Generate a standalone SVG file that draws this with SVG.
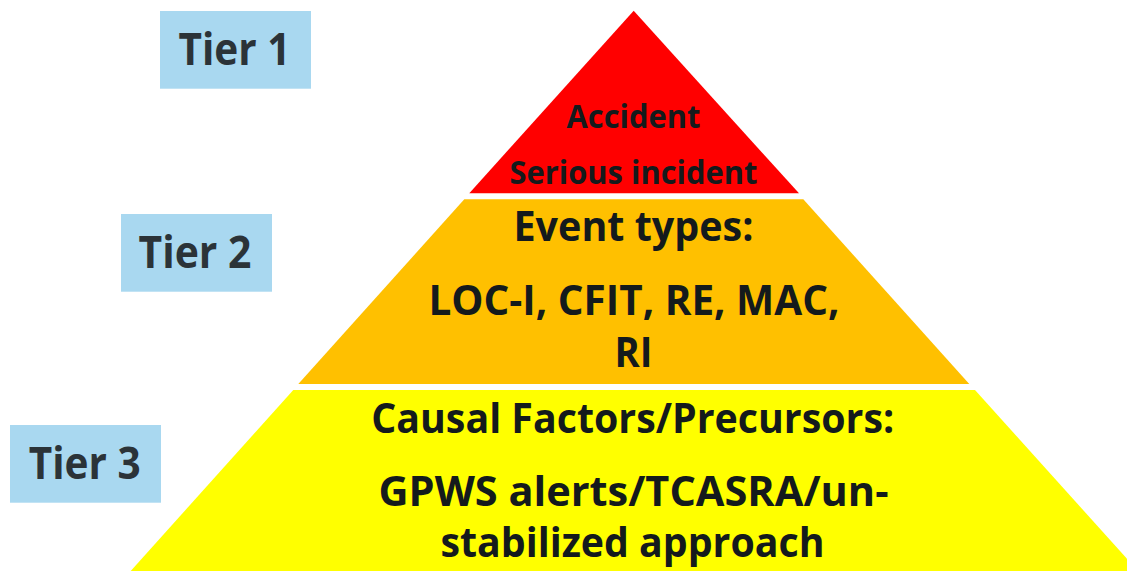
<svg xmlns="http://www.w3.org/2000/svg" width="1127" height="571" viewBox="0 0 1127 571">
  <style>
    .tier-box { fill: #A9D8F0; }
    .tier-label { font-family: "Open Sans", "Liberation Sans", sans-serif; font-weight: 700; font-size: 44px; fill: #2B3338; text-anchor: middle; }
    .level-text { font-family: "Open Sans", "Liberation Sans", sans-serif; font-weight: 700; fill: #141A1C; text-anchor: middle; }
    .big { font-size: 41px; }
    .small { font-size: 32px; }
  </style>
  <rect width="1127" height="571" fill="#FFFFFF"/>

  <!-- pyramid levels -->
  <g id="level-1">
    <polygon points="633.7,10.7 799,193.3 469.3,193.3" fill="#FF0000"/>
    <text class="level-text small" x="633.5" y="127.7" textLength="134" lengthAdjust="spacingAndGlyphs">Accident</text>
    <text class="level-text small" x="633.5" y="184" textLength="248" lengthAdjust="spacingAndGlyphs">Serious incident</text>
  </g>
  <g id="level-2">
    <polygon points="464.3,199.3 803.3,199.3 969.3,384 298.3,384" fill="#FFC000"/>
    <text class="level-text big" x="633.5" y="241" textLength="240" lengthAdjust="spacingAndGlyphs">Event types:</text>
    <text class="level-text big" x="634" y="315" textLength="411" lengthAdjust="spacingAndGlyphs">LOC-I, CFIT, RE, MAC,</text>
    <text class="level-text big" x="633.5" y="367.3" textLength="38" lengthAdjust="spacingAndGlyphs">RI</text>
  </g>
  <g id="level-3">
    <polygon points="293.3,390 975,390 1138,571 130.7,571" fill="#FFFF00"/>
    <text class="level-text big" x="632.7" y="433.2" textLength="523" lengthAdjust="spacingAndGlyphs">Causal Factors/Precursors:</text>
    <text class="level-text big" x="633.5" y="506.2" textLength="510" lengthAdjust="spacingAndGlyphs">GPWS alerts/TCASRA/un-</text>
    <text class="level-text big" x="632.5" y="557" textLength="384" lengthAdjust="spacingAndGlyphs">stabilized approach</text>
  </g>

  <!-- tier tags -->
  <g id="tier-1">
    <rect class="tier-box" x="160" y="11" width="151" height="77.7"/>
    <text class="tier-label" x="234.5" y="65" textLength="112" lengthAdjust="spacingAndGlyphs">Tier 1</text>
  </g>
  <g id="tier-2">
    <rect class="tier-box" x="121" y="214" width="151" height="77.7"/>
    <text class="tier-label" x="195" y="268.3" textLength="113" lengthAdjust="spacingAndGlyphs">Tier 2</text>
  </g>
  <g id="tier-3">
    <rect class="tier-box" x="10" y="425" width="151" height="77.7"/>
    <text class="tier-label" x="84.7" y="479.3" textLength="112" lengthAdjust="spacingAndGlyphs">Tier 3</text>
  </g>

  <g id="connectors"/>
</svg>
